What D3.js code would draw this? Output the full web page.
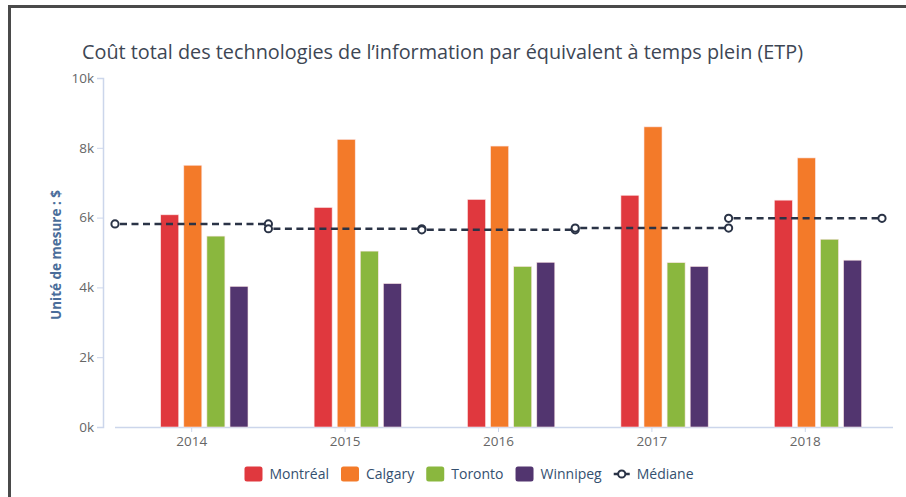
<!DOCTYPE html>
<html>
<head>
<meta charset="utf-8">
<script src="https://cdn.jsdelivr.net/npm/d3@7"></script>
<style>
  body { margin: 0; background: #fff; }
  text { font-family: "Open Sans", sans-serif; }
</style>
</head>
<body>
<svg id="chart" width="906" height="497"></svg>
<script>
"use strict";

// Données
var years = ["2014", "2015", "2016", "2017", "2018"];
var cities = ["Montréal", "Calgary", "Toronto", "Winnipeg"];
var montreal = [6080, 6290, 6520, 6640, 6500];
var calgary = [7500, 8240, 8050, 8600, 7710];
var toronto = [5470, 5040, 4600, 4710, 5380];
var winnipeg = [4030, 4110, 4720, 4600, 4780];
var mediane = [5820, 5680, 5650, 5700, 5980];
var yTicks = [0, 2000, 4000, 6000, 8000, 10000];
var cityColors = ["#e0383e", "#f37a29", "#8ab73e", "#52356f"];

var title = "Coût total des technologies de l’information par équivalent à temps plein (ETP)";
var yTitle = "Unité de mesure : $";

var svg = d3.select("#chart");

// cadre
svg.append("rect")
  .attr("x", 9.5).attr("y", 6.5)
  .attr("width", 920).attr("height", 520)
  .attr("fill", "none")
  .attr("stroke", "#4a4a4a")
  .attr("stroke-width", 3);

var plotLeft = 115, plotRight = 882, plotTop = 78, plotBottom = 427;

var y = d3.scaleLinear().domain([0, 10000]).range([plotBottom, plotTop]);
var x0 = d3.scaleBand().domain(years).range([plotLeft, plotRight]);
var bw = x0.bandwidth();
var x1 = d3.scaleBand().domain(cities)
  .range([0.298 * bw, 0.867 * bw])
  .paddingInner(0.22);
var color = d3.scaleOrdinal().domain(cities).range(cityColors);

var series = [montreal, calgary, toronto, winnipeg];
var rows = [];
years.forEach(function(yr, i) {
  cities.forEach(function(c, j) {
    rows.push({ year: yr, city: c, value: series[j][i] });
  });
});

// titre
svg.append("text")
  .attr("x", 82).attr("y", 59)
  .attr("font-size", 19.5)
  .attr("fill", "#3d4654")
  .attr("textLength", 721)
  .attr("lengthAdjust", "spacingAndGlyphs")
  .text(title);

// axe Y
var yAxis = d3.axisLeft(y)
  .tickValues(yTicks)
  .tickSize(6)
  .tickPadding(3)
  .tickFormat(function(d) { return (d / 1000) + "k"; });

var gy = svg.append("g")
  .attr("transform", "translate(103,0)")
  .call(yAxis);
gy.select(".domain").attr("stroke", "#ccd6eb").attr("stroke-width", 1.5);
gy.selectAll(".tick line").attr("stroke", "#ccd6eb");
gy.selectAll(".tick text")
  .attr("font-size", 13.5)
  .attr("fill", "#666")
  .style("font-family", "Open Sans, sans-serif");

svg.append("text")
  .attr("transform", "translate(61,255) rotate(-90)")
  .attr("text-anchor", "middle")
  .attr("font-size", 13.5)
  .attr("font-weight", "bold")
  .attr("fill", "#4a6d9a")
  .text(yTitle);

// axe X
var xAxis = d3.axisBottom(x0).tickSize(5).tickPadding(4);
var gx = svg.append("g")
  .attr("transform", "translate(0," + plotBottom + ")")
  .call(xAxis);
gx.select(".domain").remove();
gx.selectAll(".tick line").attr("stroke", "#ccd6eb");
gx.selectAll(".tick text")
  .attr("font-size", 13.5)
  .attr("fill", "#666")
  .style("font-family", "Open Sans, sans-serif");
svg.append("line")
  .attr("x1", plotLeft).attr("x2", 893)
  .attr("y1", plotBottom + 0.5).attr("y2", plotBottom + 0.5)
  .attr("stroke", "#ccd6eb").attr("stroke-width", 1.5);

// barres
svg.append("g")
  .selectAll("rect")
  .data(rows)
  .enter()
  .append("rect")
    .attr("x", function(d) { return x0(d.year) + x1(d.city); })
    .attr("y", function(d) { return y(d.value); })
    .attr("width", x1.bandwidth())
    .attr("height", function(d) { return y(0) - y(d.value); })
    .attr("fill", function(d) { return color(d.city); })
    .attr("stroke", "#fbe5e5")
    .attr("stroke-width", 0.6);

// médiane : un segment par année
var medLine = d3.line()
  .x(function(d) { return d[0]; })
  .y(function(d) { return y(d[1]); });
var medG = svg.append("g");
years.forEach(function(yr, i) {
  var pts = [[x0(yr), mediane[i]], [x0(yr) + bw, mediane[i]]];
  medG.append("path")
    .attr("d", medLine(pts))
    .attr("fill", "none")
    .attr("stroke", "#2a3346")
    .attr("stroke-width", 2.5)
    .attr("stroke-dasharray", "7,4.5")
    .attr("stroke-dashoffset", -5);
  pts.forEach(function(p) {
    medG.append("circle")
      .attr("cx", p[0]).attr("cy", y(p[1]))
      .attr("r", 3.6)
      .attr("fill", "#fff")
      .attr("stroke", "#2a3346")
      .attr("stroke-width", 2);
  });
});

// légende
var legendItems = cities.concat(["Médiane"]);
var legendG = svg.append("g");
var lx = 0;
var legendY = 474;
legendItems.forEach(function(name, i) {
  var g = legendG.append("g").attr("transform", "translate(" + lx + ",0)");
  if (i < cities.length) {
    g.append("rect")
      .attr("x", 0).attr("y", legendY - 7.5)
      .attr("width", 18).attr("height", 15)
      .attr("rx", 2.5)
      .attr("fill", color(name));
  } else {
    g.append("line")
      .attr("x1", 0).attr("x2", 16)
      .attr("y1", legendY).attr("y2", legendY)
      .attr("stroke", "#2a3346").attr("stroke-width", 2.5);
    g.append("circle")
      .attr("cx", 8).attr("cy", legendY).attr("r", 3.6)
      .attr("fill", "#fff").attr("stroke", "#2a3346").attr("stroke-width", 2);
  }
  var sw = i < cities.length ? 18 : 16;
  var t = g.append("text")
    .attr("x", sw + 7).attr("y", legendY + 5)
    .attr("font-size", 14)
    .attr("fill", "#34506f")
    .text(name);
  lx += sw + 7 + t.node().getComputedTextLength() + 12;
});
var legendWidth = lx - 12;
legendG.attr("transform", "translate(" + (469 - legendWidth / 2) + ",0)");
</script>
</body>
</html>
